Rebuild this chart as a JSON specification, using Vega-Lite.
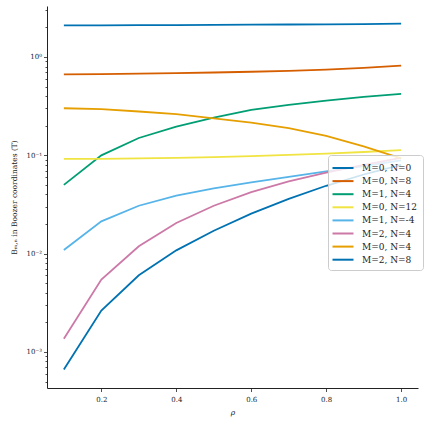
{
  "$schema": "https://vega.github.io/schema/vega-lite/v6.json",
  "autosize": "none",
  "padding": {"left": 47, "top": 6, "right": 12, "bottom": 36},
  "width": 371,
  "height": 382,
  "background": "white",
  "data": {
    "values": [
      {"series": "M=0, N=0", "rho": 0.1, "b": 2.10},
      {"series": "M=0, N=0", "rho": 0.2, "b": 2.10},
      {"series": "M=0, N=0", "rho": 0.3, "b": 2.11},
      {"series": "M=0, N=0", "rho": 0.4, "b": 2.11},
      {"series": "M=0, N=0", "rho": 0.5, "b": 2.12},
      {"series": "M=0, N=0", "rho": 0.6, "b": 2.13},
      {"series": "M=0, N=0", "rho": 0.7, "b": 2.14},
      {"series": "M=0, N=0", "rho": 0.8, "b": 2.15},
      {"series": "M=0, N=0", "rho": 0.9, "b": 2.16},
      {"series": "M=0, N=0", "rho": 1.0, "b": 2.18},
      {"series": "M=0, N=8", "rho": 0.1, "b": 0.667},
      {"series": "M=0, N=8", "rho": 0.2, "b": 0.670},
      {"series": "M=0, N=8", "rho": 0.3, "b": 0.676},
      {"series": "M=0, N=8", "rho": 0.4, "b": 0.684},
      {"series": "M=0, N=8", "rho": 0.5, "b": 0.695},
      {"series": "M=0, N=8", "rho": 0.6, "b": 0.708},
      {"series": "M=0, N=8", "rho": 0.7, "b": 0.724},
      {"series": "M=0, N=8", "rho": 0.8, "b": 0.745},
      {"series": "M=0, N=8", "rho": 0.9, "b": 0.776},
      {"series": "M=0, N=8", "rho": 1.0, "b": 0.816},
      {"series": "M=1, N=4", "rho": 0.1, "b": 0.050},
      {"series": "M=1, N=4", "rho": 0.2, "b": 0.100},
      {"series": "M=1, N=4", "rho": 0.3, "b": 0.150},
      {"series": "M=1, N=4", "rho": 0.4, "b": 0.196},
      {"series": "M=1, N=4", "rho": 0.5, "b": 0.242},
      {"series": "M=1, N=4", "rho": 0.6, "b": 0.290},
      {"series": "M=1, N=4", "rho": 0.7, "b": 0.326},
      {"series": "M=1, N=4", "rho": 0.8, "b": 0.360},
      {"series": "M=1, N=4", "rho": 0.9, "b": 0.393},
      {"series": "M=1, N=4", "rho": 1.0, "b": 0.421},
      {"series": "M=0, N=12", "rho": 0.1, "b": 0.092},
      {"series": "M=0, N=12", "rho": 0.2, "b": 0.092},
      {"series": "M=0, N=12", "rho": 0.3, "b": 0.093},
      {"series": "M=0, N=12", "rho": 0.4, "b": 0.094},
      {"series": "M=0, N=12", "rho": 0.5, "b": 0.096},
      {"series": "M=0, N=12", "rho": 0.6, "b": 0.098},
      {"series": "M=0, N=12", "rho": 0.7, "b": 0.101},
      {"series": "M=0, N=12", "rho": 0.8, "b": 0.104},
      {"series": "M=0, N=12", "rho": 0.9, "b": 0.108},
      {"series": "M=0, N=12", "rho": 1.0, "b": 0.113},
      {"series": "M=1, N=-4", "rho": 0.1, "b": 0.0109},
      {"series": "M=1, N=-4", "rho": 0.2, "b": 0.0213},
      {"series": "M=1, N=-4", "rho": 0.3, "b": 0.0307},
      {"series": "M=1, N=-4", "rho": 0.4, "b": 0.0388},
      {"series": "M=1, N=-4", "rho": 0.5, "b": 0.0460},
      {"series": "M=1, N=-4", "rho": 0.6, "b": 0.0530},
      {"series": "M=1, N=-4", "rho": 0.7, "b": 0.0605},
      {"series": "M=1, N=-4", "rho": 0.8, "b": 0.0687},
      {"series": "M=1, N=-4", "rho": 0.9, "b": 0.0776},
      {"series": "M=1, N=-4", "rho": 1.0, "b": 0.089},
      {"series": "M=2, N=4", "rho": 0.1, "b": 0.00136},
      {"series": "M=2, N=4", "rho": 0.2, "b": 0.00545},
      {"series": "M=2, N=4", "rho": 0.3, "b": 0.0119},
      {"series": "M=2, N=4", "rho": 0.4, "b": 0.0205},
      {"series": "M=2, N=4", "rho": 0.5, "b": 0.0307},
      {"series": "M=2, N=4", "rho": 0.6, "b": 0.0423},
      {"series": "M=2, N=4", "rho": 0.7, "b": 0.0542},
      {"series": "M=2, N=4", "rho": 0.8, "b": 0.0667},
      {"series": "M=2, N=4", "rho": 0.9, "b": 0.080},
      {"series": "M=2, N=4", "rho": 1.0, "b": 0.094},
      {"series": "M=0, N=4", "rho": 0.1, "b": 0.301},
      {"series": "M=0, N=4", "rho": 0.2, "b": 0.295},
      {"series": "M=0, N=4", "rho": 0.3, "b": 0.279},
      {"series": "M=0, N=4", "rho": 0.4, "b": 0.262},
      {"series": "M=0, N=4", "rho": 0.5, "b": 0.238},
      {"series": "M=0, N=4", "rho": 0.6, "b": 0.215},
      {"series": "M=0, N=4", "rho": 0.7, "b": 0.189},
      {"series": "M=0, N=4", "rho": 0.8, "b": 0.158},
      {"series": "M=0, N=4", "rho": 0.9, "b": 0.123},
      {"series": "M=0, N=4", "rho": 1.0, "b": 0.093},
      {"series": "M=2, N=8", "rho": 0.1, "b": 0.000664},
      {"series": "M=2, N=8", "rho": 0.2, "b": 0.00264},
      {"series": "M=2, N=8", "rho": 0.3, "b": 0.00602},
      {"series": "M=2, N=8", "rho": 0.4, "b": 0.0108},
      {"series": "M=2, N=8", "rho": 0.5, "b": 0.0171},
      {"series": "M=2, N=8", "rho": 0.6, "b": 0.0255},
      {"series": "M=2, N=8", "rho": 0.7, "b": 0.0361},
      {"series": "M=2, N=8", "rho": 0.8, "b": 0.049},
      {"series": "M=2, N=8", "rho": 0.9, "b": 0.0638},
      {"series": "M=2, N=8", "rho": 1.0, "b": 0.080}
    ]
  },
  "layer": [
    {
      "mark": {"type": "line", "strokeWidth": 1.8, "clip": true},
      "encoding": {
        "x": {
          "field": "rho",
          "type": "quantitative",
          "scale": {"domain": [0.055, 1.045], "nice": false, "zero": false},
          "axis": {
            "title": "ρ",
            "titleFontStyle": "italic",
            "values": [0.2, 0.4, 0.6, 0.8, 1.0],
            "format": ".1f",
            "grid": false
          }
        },
        "y": {
          "field": "b",
          "type": "quantitative",
          "scale": {"type": "log", "domain": [0.00043, 3.3], "nice": false},
          "axis": {
            "title": "Bₘ,ₙ in Boozer coordinates (T)",
            "values": [0.001, 0.01, 0.1, 1],
            "labelExpr": "datum.value >= 1 ? '10⁰' : datum.value >= 0.1 ? '10⁻¹' : datum.value >= 0.01 ? '10⁻²' : '10⁻³'",
            "grid": false,
            "orient": "left"
          }
        },
        "color": {
          "field": "series",
          "type": "nominal",
          "sort": null,
          "scale": {
            "domain": ["M=0, N=0", "M=0, N=8", "M=1, N=4", "M=0, N=12", "M=1, N=-4", "M=2, N=4", "M=0, N=4", "M=2, N=8"],
            "range": ["#0072B2", "#D55E00", "#009E73", "#F0E442", "#56B4E9", "#CC79A7", "#E69F00", "#0072B2"]
          },
          "legend": {
            "title": null,
            "orient": "none",
            "legendX": 281,
            "legendY": 149,
            "symbolType": "M-1.5,0H1.5",
            "symbolSize": 196,
            "symbolStrokeWidth": 2,
            "symbolOffset": 2,
            "labelFontSize": 9,
            "labelFont": "DejaVu Serif",
            "labelColor": "#222",
            "labelOffset": 11,
            "rowPadding": 0.1,
            "padding": 5,
            "fillColor": "rgba(255,255,255,0.8)",
            "strokeColor": "#cccccc",
            "cornerRadius": 3
          }
        }
      }
    },
    {
      "mark": {"type": "line", "opacity": 0},
      "encoding": {
        "x": {"field": "rho", "type": "quantitative"},
        "y": {
          "field": "b",
          "type": "quantitative",
          "axis": {
            "orient": "left",
            "title": null,
            "labels": false,
            "domain": false,
            "grid": false,
            "tickSize": 2,
            "values": [0.0005, 0.0006, 0.0007, 0.0008, 0.0009, 0.002, 0.003, 0.004, 0.005, 0.006, 0.007, 0.008, 0.009, 0.02, 0.03, 0.04, 0.05, 0.06, 0.07, 0.08, 0.09, 0.2, 0.3, 0.4, 0.5, 0.6, 0.7, 0.8, 0.9, 2, 3]
          }
        }
      }
    }
  ],
  "resolve": {"axis": {"y": "independent"}},
  "config": {
    "view": {"stroke": null},
    "font": "DejaVu Serif",
    "axis": {
      "domainColor": "#222",
      "domainWidth": 1,
      "tickColor": "#222",
      "tickWidth": 0.8,
      "tickSize": 3.5,
      "labelFont": "DejaVu Serif",
      "labelFontSize": 7,
      "labelColor": "#222",
      "labelPadding": 2,
      "titleFont": "DejaVu Serif",
      "titleFontSize": 7.5,
      "titleFontWeight": "normal",
      "titleColor": "#222"
    },
    "axisX": {"titlePadding": 6, "labelPadding": 4},
    "axisY": {"titlePadding": 8}
  }
}
